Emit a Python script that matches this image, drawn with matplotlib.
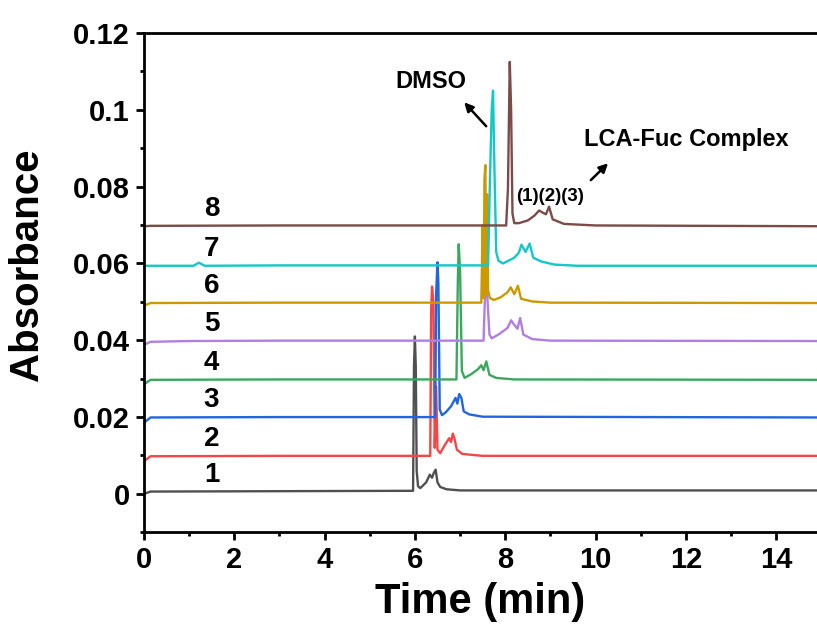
import matplotlib
matplotlib.use("Agg")
from matplotlib import pyplot as plt
from matplotlib.ticker import MultipleLocator, FuncFormatter

plt.rcParams['font.family'] = ['Liberation Sans', 'DejaVu Sans']
plt.rcParams['font.weight'] = 'bold'

# HPLC traces, retention time (min) and absorbance, offset by 0.01 each
t1 = [0, 0.15, 3.0, 5.96, 5.98, 6.0, 6.02, 6.04, 6.07, 6.12, 6.25, 6.33, 6.38, 6.42, 6.46, 6.5, 6.56, 6.7, 7.0, 14.9]
a1 = [0.0, 0.0006, 0.0007, 0.0008, 0.033, 0.041, 0.033, 0.006, 0.002, 0.0015, 0.003, 0.005, 0.0042, 0.0055, 0.0063, 0.003, 0.0018, 0.0012, 0.0009, 0.0009]

t2 = [0, 0.15, 3.0, 6.34, 6.36, 6.38, 6.41, 6.44, 6.47, 6.5, 6.56, 6.65, 6.76, 6.8, 6.84, 6.88, 6.93, 7.05, 7.5, 14.9]
a2 = [0.0085, 0.0098, 0.0099, 0.0099, 0.048, 0.054, 0.05, 0.012, 0.028, 0.0115, 0.0106, 0.0125, 0.0145, 0.0135, 0.0157, 0.0142, 0.0115, 0.0104, 0.0099, 0.0099]

t3 = [0, 0.15, 3.0, 6.45, 6.47, 6.5, 6.52, 6.55, 6.6, 6.68, 6.8, 6.9, 6.94, 6.98, 7.03, 7.08, 7.2, 7.5, 14.9]
a3 = [0.0185, 0.0199, 0.02, 0.02, 0.052, 0.0603, 0.055, 0.022, 0.0205, 0.0212, 0.0228, 0.025, 0.0235, 0.026, 0.025, 0.0215, 0.0207, 0.0201, 0.0199]

t4 = [0, 0.15, 3.0, 6.92, 6.95, 6.97, 7.0, 7.04, 7.1, 7.25, 7.4, 7.47, 7.52, 7.58, 7.65, 7.8, 8.2, 14.9]
a4 = [0.0285, 0.0297, 0.0298, 0.0298, 0.055, 0.065, 0.058, 0.032, 0.0302, 0.0312, 0.0325, 0.0335, 0.0322, 0.0345, 0.031, 0.0302, 0.0298, 0.0297]

t5 = [0, 0.15, 1.0, 3.0, 7.52, 7.55, 7.58, 7.61, 7.65, 7.7, 7.85, 8.05, 8.13, 8.2, 8.27, 8.33, 8.4, 8.6, 9.0, 14.9]
a5 = [0.0388, 0.0396, 0.0398, 0.0399, 0.0399, 0.051, 0.0548, 0.05, 0.0415, 0.0405, 0.0415, 0.0432, 0.0452, 0.044, 0.043, 0.0458, 0.0415, 0.0403, 0.0399, 0.0398]

t6 = [0, 0.15, 3.0, 7.47, 7.5, 7.52, 7.54, 7.56, 7.58, 7.6, 7.62, 7.66, 7.75, 7.9, 8.05, 8.12, 8.2, 8.28, 8.35, 8.6, 9.0, 14.9]
a6 = [0.049, 0.0497, 0.0498, 0.0498, 0.07, 0.051, 0.082, 0.0856, 0.052, 0.078, 0.053, 0.051, 0.0505, 0.0512, 0.0525, 0.0538, 0.052, 0.0542, 0.0508, 0.0501, 0.0498, 0.0497]

t7 = [0, 0.15, 1.1, 1.22, 1.35, 3.0, 7.62, 7.66, 7.7, 7.73, 7.76, 7.8, 7.85, 7.95, 8.2, 8.3, 8.36, 8.45, 8.54, 8.62, 8.8, 9.1, 9.6, 14.9]
a7 = [0.0594, 0.0594, 0.0594, 0.0602, 0.0594, 0.0595, 0.0595, 0.081, 0.1, 0.105, 0.085, 0.063, 0.0607, 0.06, 0.0615, 0.0628, 0.0649, 0.063, 0.0652, 0.0615, 0.0605, 0.0597, 0.0594, 0.0594]

t8 = [0, 0.15, 3.0, 8.02, 8.06, 8.1, 8.13, 8.16, 8.2, 8.3, 8.5, 8.65, 8.75, 8.82, 8.9, 8.97, 9.05, 9.3, 10.0, 14.9]
a8 = [0.0697, 0.0698, 0.0699, 0.0699, 0.0796, 0.1125, 0.1, 0.073, 0.0705, 0.0705, 0.0712, 0.0725, 0.0738, 0.0733, 0.0728, 0.0748, 0.0715, 0.0703, 0.0699, 0.0697]

times = [t1, t2, t3, t4, t5, t6, t7, t8]
absorb = [a1, a2, a3, a4, a5, a6, a7, a8]
names = ['1', '2', '3', '4', '5', '6', '7', '8']
baselines = [0.0005, 0.0098, 0.02, 0.0298, 0.0398, 0.0498, 0.0594, 0.0698]
colors = ['#505050', '#f44646', '#1f66e0', '#3aa85c', '#b07fe0', '#cc9a00', '#12c8c8', '#7c4a47']

fig = plt.figure(figsize=(8.17, 6.24), dpi=100)
ax = fig.add_axes([0.176, 0.147, 0.824, 0.8])

for t, a, c in zip(times, absorb, colors):
    ax.plot(t, a, color=c, lw=1.7)

for n, b in zip(names, baselines):
    ax.text(1.5, b + 0.0044, n, fontsize=20, fontweight='bold', ha='center', va='center')

# peak annotations
ax.text(6.35, 0.1073, 'DMSO', fontsize=17, fontweight='bold', ha='center', va='center')
ax.annotate('', xy=(7.05, 0.1025), xytext=(7.62, 0.0952),
            arrowprops=dict(arrowstyle='-|>', color='black', lw=1.8, mutation_scale=13))
ax.text(12.0, 0.0924, 'LCA-Fuc Complex', fontsize=17, fontweight='bold', ha='center', va='center')
ax.annotate('', xy=(10.32, 0.0866), xytext=(9.85, 0.0812),
            arrowprops=dict(arrowstyle='-|>', color='black', lw=1.8, mutation_scale=13))
ax.text(9.0, 0.0775, '(1)(2)(3)', fontsize=13.5, fontweight='bold', ha='center', va='center')

ax.set_xlim(0, 14.9)
ax.set_ylim(-0.01, 0.12)
ax.xaxis.set_major_locator(MultipleLocator(2))
ax.xaxis.set_minor_locator(MultipleLocator(1))
ax.yaxis.set_major_locator(MultipleLocator(0.02))
ax.yaxis.set_minor_locator(MultipleLocator(0.01))
ax.yaxis.set_major_formatter(FuncFormatter(lambda v, p: f"{round(v, 3):g}"))

ax.spines['right'].set_visible(False)
for s in ['left', 'bottom', 'top']:
    ax.spines[s].set_linewidth(2)
ax.tick_params(which='major', direction='out', length=6, width=2, labelsize=21, pad=4)
ax.tick_params(which='minor', direction='out', length=3, width=2)
ax.tick_params(top=False, which='both')
for lab in ax.get_xticklabels() + ax.get_yticklabels():
    lab.set_fontweight('bold')

ax.set_xlabel('Time (min)', fontsize=30, fontweight='bold')
ax.set_ylabel('Absorbance', fontsize=29, fontweight='bold')
ax.xaxis.set_label_coords(0.5, -0.1)
ax.yaxis.set_label_coords(-0.145, 0.535)

fig.savefig('out.png', dpi=100)
